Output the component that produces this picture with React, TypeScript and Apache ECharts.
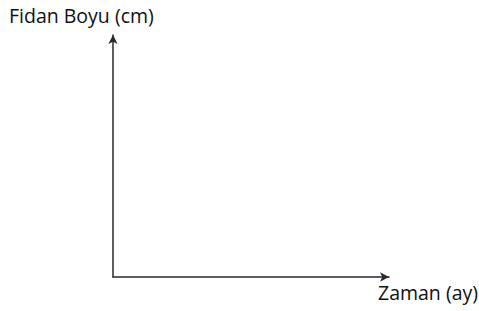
import React, { useEffect, useRef } from "react";
import * as echarts from "echarts";

const xAxisName = "Zaman (ay)";
const yAxisName = "Fidan Boyu (cm)";
const xRange = [0, 10];
const yRange = [0, 10];
const seriesValues: number[][] = [];

export default function App() {
  const ref = useRef<HTMLDivElement>(null);
  useEffect(() => {
    if (!ref.current) return;
    const chart = echarts.init(ref.current, undefined, { renderer: "svg" });
    const axisLine = {
      show: true,
      symbol: ["none", "arrow"],
      symbolSize: [7, 9],
      symbolOffset: [0, 0],
      lineStyle: { color: "#2a2a2a", width: 1.5 },
    };
    const common = {
      type: "value",
      axisLine,
      axisTick: { show: false },
      axisLabel: { show: false },
      splitLine: { show: false },
    };
    chart.setOption({
      animation: false,
      backgroundColor: "#fff",
      grid: { left: 113, right: 90, top: 35, bottom: 34, outerBoundsMode: "none", containLabel: false },
      xAxis: { ...common, min: xRange[0], max: xRange[1] },
      yAxis: { ...common, min: yRange[0], max: yRange[1] },
      graphic: [
        {
          type: "text",
          left: 9,
          top: 5,
          style: {
            text: yAxisName,
            fontFamily: "Open Sans",
            fontSize: 19.5,
            fill: "#111",
          },
        },
        {
          type: "text",
          right: 1,
          top: 282,
          style: {
            text: xAxisName,
            fontFamily: "Open Sans",
            fontSize: 19.5,
            fill: "#111",
          },
        },
      ],
      series: [{ type: "line", data: seriesValues, showSymbol: false }],
    });
    return () => chart.dispose();
  }, []);
  return (
    <div
      ref={ref}
      style={{ position: "fixed", left: 0, top: 0, width: 479, height: 311 }}
    />
  );
}
